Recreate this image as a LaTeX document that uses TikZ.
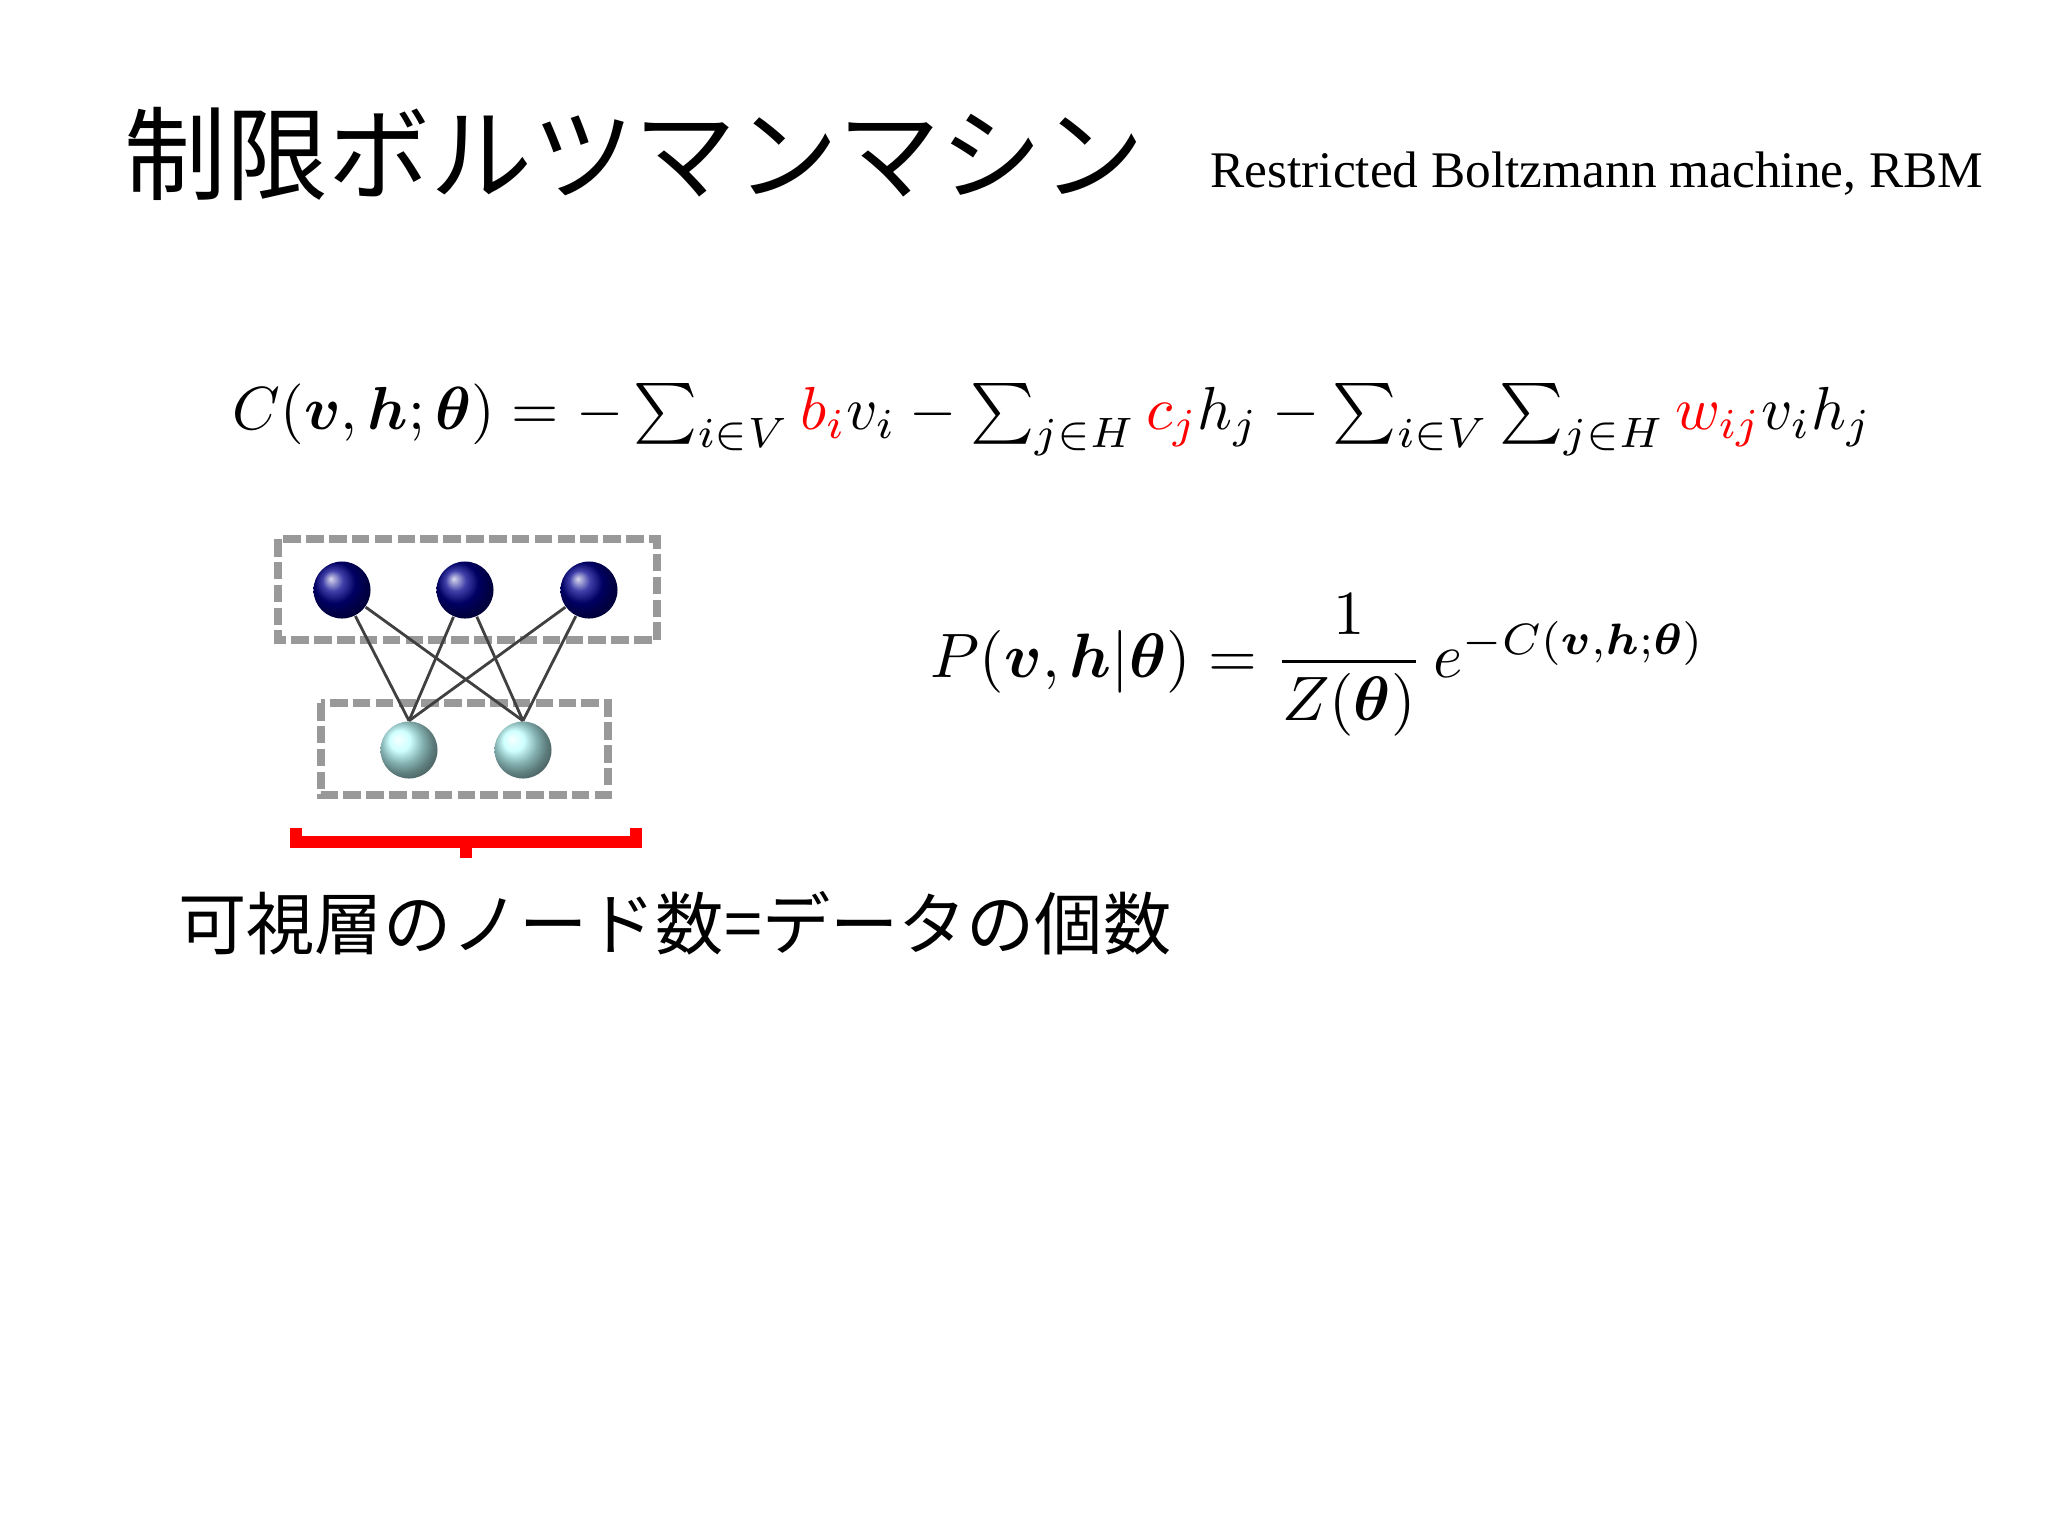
\documentclass[tikz,border=0pt]{standalone}
\usepackage{amsmath,bm,graphicx}
\usepackage{fontspec}
\setmainfont{Liberation Serif}
\newfontfamily\jp{Noto Sans CJK JP}
\usetikzlibrary{shadings}
\begin{document}
\begin{tikzpicture}[x=0.01cm,y=-0.01cm,
  topn/.style={circle,minimum size=0.57cm,inner sep=0,ball color=blue!55!black},
  botn/.style={circle,minimum size=0.57cm,inner sep=0,ball color=cyan!25!white},
  layerbox/.style={draw=gray!80,dash pattern=on 5pt off 1.5pt,line width=2.2pt},
  edge/.style={draw=black!75,line width=0.8pt}]
\useasboundingbox (0,0) rectangle (2048,1536);
\node[anchor=west,font=\jp\fontsize{29}{33}\selectfont] (title) at (112,154) {制限ボルツマンマシン};
\node[anchor=west,font=\fontsize{14.6}{18}\selectfont] (sub) at (1198,174) {Restricted Boltzmann machine, RBM};
\node[anchor=west,inner sep=0] (eqC) at (232,420)
 {\resizebox{16.38cm}{!}{$C(\bm{v},\bm{h};\bm{\theta}) = -\sum_{i\in V}\textcolor{red}{b_i}v_i-\sum_{j\in H}\textcolor{red}{c_j}h_j-\sum_{i\in V}\sum_{j\in H}\textcolor{red}{w_{ij}}v_ih_j$}};
\node[anchor=west,inner sep=0] (eqP) at (930,665)
 {\resizebox{7.74cm}{!}{$P(\bm{v},\bm{h}|\bm{\theta}) = \dfrac{1}{Z(\bm{\theta})}\,e^{-C(\bm{v},\bm{h};\bm{\theta})}$}};
\draw[layerbox] (278,539) rectangle (657,640);
\draw[layerbox] (321,703) rectangle (608,795);
\node[topn] (t1) at (342,590) {};
\node[topn] (t2) at (465,590) {};
\node[topn] (t3) at (589,590) {};
\node[botn] (b1) at (409,750) {};
\node[botn] (b2) at (523,750) {};
\foreach \t in {t1,t2,t3}\foreach \b in {b1,b2} \draw[edge] (\t) -- (\b.north);
\coordinate (bl) at (296,828);
\coordinate (br) at (636,828);
\coordinate (bm) at (466,858);
\draw[red,line width=3.5pt] (bl) -- (296,842) -- (636,842) -- (br);
\draw[red,line width=3.5pt] (466,842) -- (bm);
\node[anchor=west,font=\jp\fontsize{19.4}{24}\selectfont] (cap) at (166,923) {可視層のノード数=データの個数};
\end{tikzpicture}
\end{document}
